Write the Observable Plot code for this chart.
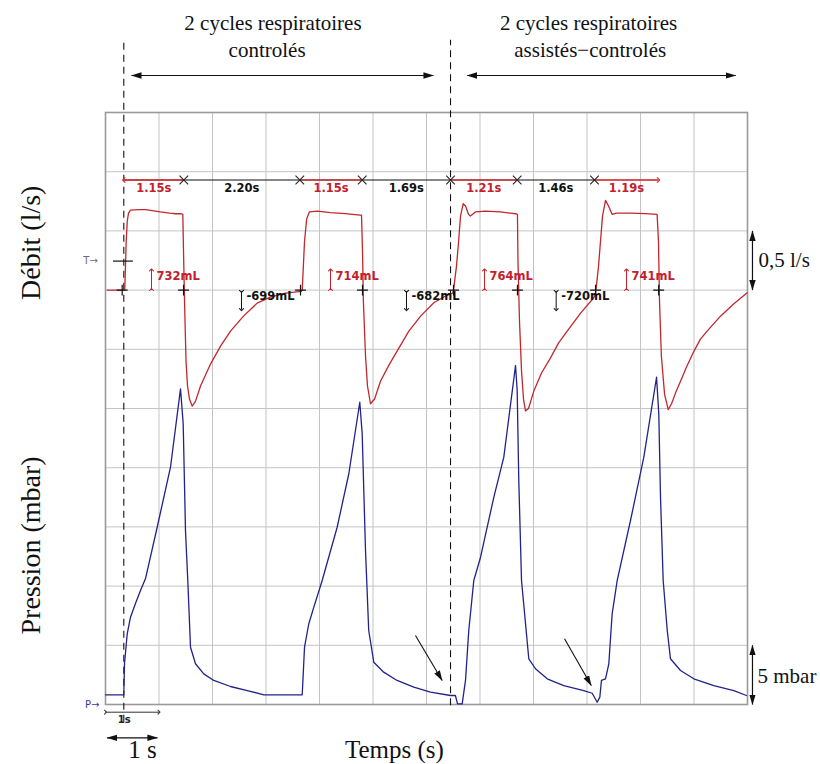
<!DOCTYPE html>
<html><head><meta charset="utf-8">
<script src="https://cdn.jsdelivr.net/npm/d3@7"></script>
<script src="https://cdn.jsdelivr.net/npm/@observablehq/plot@0.6"></script>
<style>body{margin:0;background:#fff}</style>
</head><body><div id="chart"></div>
<script>
// ---- data: flow (l/s) vs time (s)
const flowT = [0.03,0.342,0.36,0.387,0.406,0.43,0.467,0.62,0.75,0.9,1.03,1.2,1.31,1.42,1.445,1.458,1.477,1.505,1.533,1.57,1.62,1.682,1.776,1.963,2.15,2.336,2.58,2.835,3.08,3.364,3.66,
 3.677,3.72,3.76,3.81,3.963,4.206,4.486,4.753,4.785,4.804,4.82,4.86,4.897,4.953,5.03,5.14,5.29,5.45,5.67,5.89,6.137,6.355,6.49,
 6.505,6.56,6.6,6.636,6.686,6.73,6.785,6.82,6.916,7.1,7.38,7.57,7.664,7.7,7.71,7.738,7.776,7.813,7.85,7.907,8.006,8.15,8.318,8.467,8.63,8.88,9.127,9.16,
 9.215,9.252,9.29,9.346,9.402,9.47,9.55,9.813,10.09,10.31,10.336,10.355,10.39,10.45,10.518,10.58,10.654,10.748,10.86,11.0,11.12,11.245,11.495,11.74,11.994];
const flowV = [0,0,0,0.41,0.58,0.65,0.675,0.68,0.68,0.67,0.66,0.65,0.645,0.645,0.64,0.33,-0.09,-0.6,-0.81,-0.92,-0.98,-0.94,-0.81,-0.625,-0.473,-0.346,-0.22,-0.11,-0.06,-0.025,-0.01,
 0,0.41,0.6,0.66,0.667,0.655,0.646,0.633,0.633,0.33,-0.09,-0.557,-0.81,-0.96,-0.92,-0.77,-0.64,-0.515,-0.346,-0.22,-0.107,-0.05,-0.025,
 0,0.2,0.41,0.625,0.73,0.71,0.64,0.625,0.66,0.667,0.66,0.65,0.645,0.64,0.245,-0.26,-0.68,-0.92,-1.02,-1.0,-0.853,-0.70,-0.572,-0.448,-0.346,-0.194,-0.065,-0.03,
 0.2,0.41,0.625,0.758,0.71,0.64,0.65,0.65,0.646,0.64,0.414,-0.09,-0.557,-0.88,-1.01,-0.96,-0.87,-0.77,-0.65,-0.515,-0.414,-0.346,-0.22,-0.118,-0.023];
// ---- data: pressure (mbar) vs time (s)
const presT = [0,0.342,0.355,0.406,0.467,0.56,0.654,0.748,0.966,1.215,1.402,1.452,1.495,1.538,1.589,1.682,1.837,2.024,2.336,2.65,2.96,3.645,
 3.677,3.72,3.8,3.894,4.05,4.33,4.548,4.753,4.798,4.86,4.92,5.015,5.2,5.45,5.763,6.075,6.449,6.54,6.58,6.667,6.729,6.79,6.884,7.01,7.258,7.445,7.664,7.695,7.725,7.776,7.912,8.037,8.256,8.566,8.94,9.097,9.19,9.24,9.27,9.346,9.408,9.47,9.564,9.813,10.062,10.3,10.342,10.374,10.424,10.5,10.56,10.748,10.996,11.37,11.744,11.98];
const presV = [0.82,0.82,3.44,5.97,7.37,8.53,9.63,10.64,14.97,20.04,26.66,23.73,14.7,10.47,4.84,3.44,2.59,2.03,1.52,1.18,0.82,0.82,
 0.82,4.84,6.82,8.22,10.47,14.97,19.49,25.53,22.86,13.0,6.25,3.57,2.73,2.03,1.46,1.04,0.76,0.76,0.06,0.06,2.03,6.25,10.47,12.44,17.5,20.89,28.63,26.52,18.92,10.47,3.86,3.02,2.17,1.6,1.18,0.95,0.19,0.62,2.03,2.17,3.44,7.66,10.47,15.54,20.89,27.64,24.55,17.5,10.47,6.25,3.86,2.87,2.17,1.6,1.18,0.76];
// ---- phase boundaries (s) and durations
const phaseT = [0.342,1.464,3.632,4.798,6.449,7.695,9.14,10.336];
const phaseLabels = ["1.15s","2.20s","1.15s","1.69s","1.21s","1.46s","1.19s"];
const phaseInsp = [true,false,true,false,true,false,true];
// ---- tidal volumes
const volT = [0.86,2.542,4.206,5.626,7.084,8.424,9.738];
const volLabels = ["732mL","-699mL","714mL","-682mL","764mL","-720mL","741mL"];
const volSign = [1,-1,1,-1,1,-1,1];
// ---- cursors on flow baseline (s)
const cursorT = [0.312,1.459,3.645,4.804,6.505,7.70,9.16,10.34];
// ---- section separators (s) and section titles
const sepT = [0.342,6.449];
const sections = [
  {x1:0.486, x2:6.13, l1:"2 cycles respiratoires", l2:"controlés", c1:3.13, c2:3.02},
  {x1:6.76, x2:11.78, l1:"2 cycles respiratoires", l2:"assistés\u2212controlés", c1:9.03, c2:9.06}
];
// ---- arrows pointing to patient triggers (s, mbar)
const triggers = [{t1:5.794,p1:5.83,t2:6.293,p2:2.03},{t1:8.58,p1:5.55,t2:9.08,p2:1.6}];
// ---- grid
const gridX = [1,2,3,4,5,6,7,8,9,10,11];
const gridY = [1,2,3,4,5,6,7,8,9];

// scale conventions: one division = 0.5 l/s (flow zero at division 7) or 5 mbar (pressure zero at 0)
const FLOW_ZERO = 7, FLOW_DIV = 0.5, PRES_DIV = 5;
const fy = f => FLOW_ZERO + f / FLOW_DIV;
const py = p => p / PRES_DIV;

const flow = flowT.map((t,i)=>({t, v: flowV[i]}));
const pres = presT.map((t,i)=>({t, v: presV[i]}));
const phases = phaseLabels.map((s,i)=>({a: phaseT[i], b: phaseT[i+1], s, insp: phaseInsp[i]}));
const vols = volT.map((t,i)=>({t, s: volLabels[i], sign: volSign[i]}));

const RED = "#c0282d", NAVY = "#22228a", TRED = "#c3202b";

function solidHead(color) {
  const m = d3.create("svg:marker")
    .attr("viewBox", "-10 -4 11 8")
    .attr("markerWidth", 11).attr("markerHeight", 8)
    .attr("markerUnits", "userSpaceOnUse")
    .attr("orient", "auto-start-reverse")
    .attr("fill", color).attr("stroke", "none");
  m.append("path").attr("d", "M-10,-3.2L0.5,0L-10,3.2Z");
  return m.node();
}

const serif = "Liberation Serif, Times New Roman, serif";
const mono = "DejaVu Sans, Verdana, sans-serif";
const timingY = fy(0.93), timingLabelY = fy(0.86);
const bottomY = -0.912;

const chart = Plot.plot({
  width: 820, height: 764,
  marginLeft: 105, marginRight: 73, marginTop: 112, marginBottom: 60,
  x: {domain: [0, 12], axis: null},
  y: {domain: [0, 10], axis: null},
  marks: [
    Plot.ruleX(gridX, {x: d=>d, y1: 0, y2: 10, stroke: "#c4c4c4", strokeWidth: 1}),
    Plot.ruleY(gridY, {y: d=>d, x1: 0, x2: 12, stroke: "#c4c4c4", strokeWidth: 1}),
    Plot.frame({stroke: "#9a9a9a", strokeWidth: 1.6}),
    // separators
    Plot.ruleX(sepT, {x: d=>d, y1: (d,i)=> i===0 ? -0.3 : -0.02, y2: 11.22, stroke: "#111", strokeWidth: 1.1, strokeDasharray: "7,5"}),
    // section titles
    Plot.text(sections, {x: "c1", y: 11.4, text: "l1", fontFamily: serif, fontSize: 21, lineAnchor: "bottom", fill: "#111"}),
    Plot.text(sections, {x: "c2", y: 10.93, text: "l2", fontFamily: serif, fontSize: 21, lineAnchor: "bottom", fill: "#111"}),
    Plot.link(sections, {x1: "x1", x2: "x2", y1: 10.625, y2: 10.625, stroke: "#111", strokeWidth: 1.2, markerStart: solidHead, markerEnd: solidHead}),
    // curves
    Plot.line(flow, {x: "t", y: d => fy(d.v), stroke: RED, strokeWidth: 1.3}),
    Plot.line(pres, {x: "t", y: d => py(d.v), stroke: NAVY, strokeWidth: 1.3}),
    // timing row
    Plot.link([0], {x1: phaseT[0], x2: phaseT[6], y1: timingY, y2: timingY, stroke: "#111", strokeWidth: 1.2}),
    Plot.link(phases.filter(d=>d.insp), {x1: "a", x2: "b", y1: timingY, y2: timingY, stroke: "#d23c3c", strokeWidth: 1.6}),
    Plot.link(phases.slice(0,1), {x1: "b", x2: "a", y1: timingY, y2: timingY, stroke: "#d23c3c", strokeWidth: 1.2, markerEnd: "arrow"}),
    Plot.link(phases.slice(6), {x1: "a", x2: "b", y1: timingY, y2: timingY, stroke: "#d23c3c", strokeWidth: 1.2, markerEnd: "arrow"}),
    Plot.dot(phaseT.slice(1,7), {x: d=>d, y: timingY, symbol: "times", r: 4, stroke: "#222", strokeWidth: 1.1}),
    Plot.text(phases, {x: d => (d.a + d.b)/2, y: timingLabelY, text: "s", fill: d => d.insp ? TRED : "#111", fontFamily: mono, fontWeight: "bold", fontSize: 11.5}),
    // cursors
    Plot.dot(cursorT, {x: d=>d, y: FLOW_ZERO, symbol: "plus", r: 3.6, stroke: "#111", strokeWidth: 1.2}),
    Plot.ruleY([fy(0.245)], {y: d=>d, x1: 0.15, x2: 0.52, stroke: "#111", strokeWidth: 1.2}),
    Plot.text(["T\u2192"], {x: -0.28, y: fy(0.245), text: d=>d, fontFamily: mono, fontSize: 10, fill: "#6b6b80"}),
    Plot.text(["P\u2192"], {x: -0.25, y: 0, text: d=>d, fontFamily: mono, fontSize: 10, fill: "#3a3aa0"}),
    // volumes
    Plot.link(vols, {x1: "t", x2: "t", y1: d => d.sign > 0 ? fy(0.005) : fy(-0.01), y2: d => d.sign > 0 ? fy(0.17) : fy(-0.165),
      stroke: d => d.sign > 0 ? TRED : "#111", strokeWidth: 1, markerStart: "arrow", markerEnd: "arrow"}),
    Plot.text(vols, {x: "t", y: d => d.sign > 0 ? fy(0.115) : fy(-0.05), dx: 5, text: "s", textAnchor: "start",
      fill: d => d.sign > 0 ? TRED : "#111", fontFamily: mono, fontWeight: "bold", fontSize: 11.5}),
    // trigger arrows
    Plot.link(triggers, {x1: "t1", x2: "t2", y1: d => py(d.p1), y2: d => py(d.p2), stroke: "#111", strokeWidth: 1.1, markerEnd: solidHead}),
    // scale bars at right
    Plot.link([0], {x1: 12.093, x2: 12.093, y1: fy(0), y2: fy(0.5), stroke: "#111", strokeWidth: 1.2, markerStart: solidHead, markerEnd: solidHead}),
    Plot.text(["0,5 l/s"], {x: 12.206, y: fy(0.25), text: d=>d, textAnchor: "start", fontFamily: serif, fontSize: 21, fill: "#111"}),
    Plot.link([0], {x1: 12.093, x2: 12.093, y1: py(0), y2: py(5), stroke: "#111", strokeWidth: 1.2, markerStart: solidHead, markerEnd: solidHead}),
    Plot.text(["5 mbar"], {x: 12.187, y: py(2.4), text: d=>d, textAnchor: "start", fontFamily: serif, fontSize: 21, fill: "#111"}),
    // 1 s scale under frame
    Plot.link([0], {x1: 0, x2: 1, y1: -0.13, y2: -0.13, stroke: "#333", strokeWidth: 1, markerStart: "arrow", markerEnd: "arrow"}),
    Plot.text(["1s"], {x: 0.35, y: -0.26, text: d=>d, fontFamily: mono, fontWeight: "bold", fontSize: 10, fill: "#222"}),
    Plot.link([0], {x1: 0.03, x2: 0.97, y1: -0.5625, y2: -0.5625, stroke: "#111", strokeWidth: 1.3, markerStart: solidHead, markerEnd: solidHead}),
    Plot.text(["1 s"], {x: 0.69, y: bottomY, text: d=>d, lineAnchor: "bottom", fontFamily: serif, fontSize: 25, fill: "#111"}),
    Plot.text(["Temps (s)"], {x: 5.40, y: bottomY, text: d=>d, lineAnchor: "bottom", fontFamily: serif, fontSize: 25, fill: "#111"}),
    // y titles
    Plot.text(["Débit (l/s)"], {x: -1.40, y: 7.80, text: d=>d, rotate: -90, fontFamily: serif, fontSize: 28, fill: "#111"}),
    Plot.text(["Pression (mbar)"], {x: -1.40, y: 2.686, text: d=>d, rotate: -90, fontFamily: serif, fontSize: 28, fill: "#111"})
  ]
});
document.getElementById("chart").append(chart);
</script>
</body></html>
